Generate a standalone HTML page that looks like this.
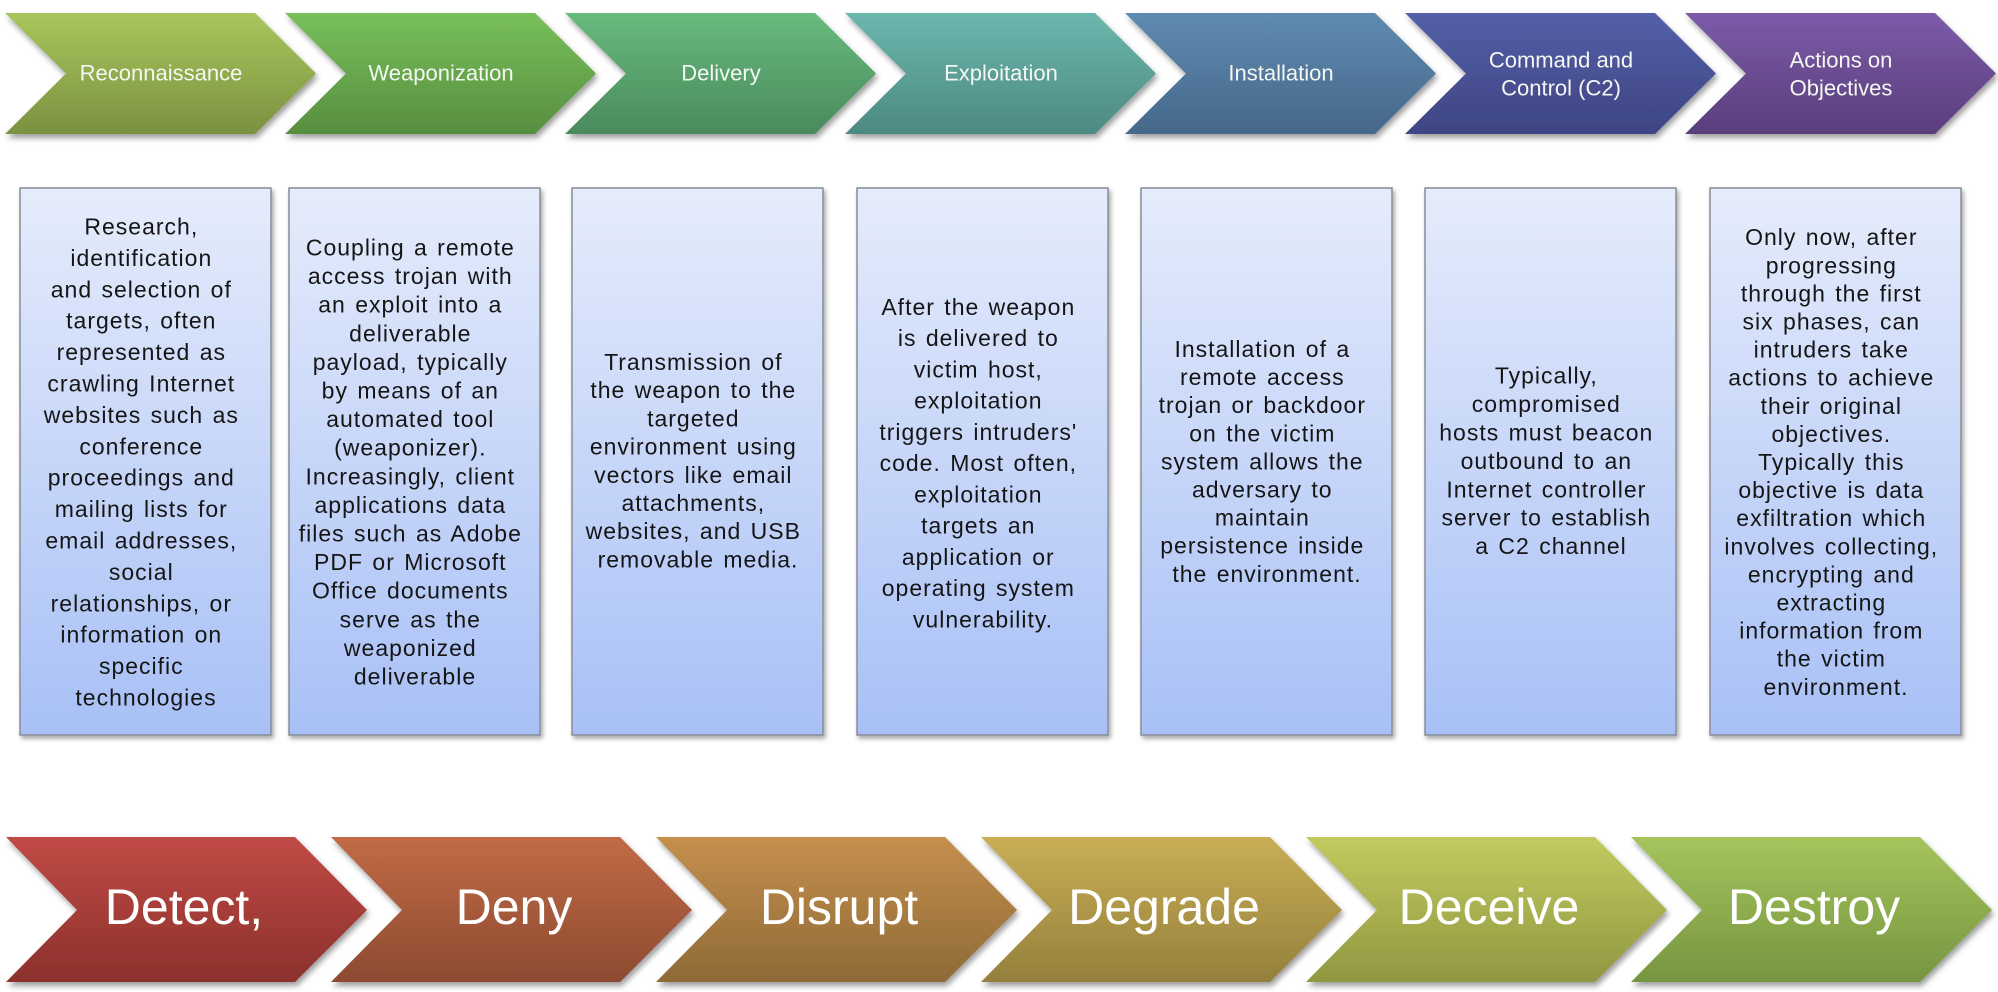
<!DOCTYPE html>
<html>
<head>
<meta charset="utf-8">
<style>
html,body{margin:0;padding:0;background:#fff;}
body{width:1998px;height:992px;overflow:hidden;}
svg{display:block;}
.lab{font-family:"Liberation Sans",sans-serif;font-size:22px;fill:#f5f7f2;text-anchor:middle;dominant-baseline:central;}
.big{font-family:"Liberation Sans",sans-serif;font-size:50px;fill:#ffffff;text-anchor:middle;dominant-baseline:central;}
.bt{font-family:"Liberation Sans",sans-serif;font-size:23px;fill:#151515;text-anchor:middle;dominant-baseline:central;letter-spacing:1px;word-spacing:2px;}
</style>
</head>
<body>
<svg width="1998" height="992" viewBox="0 0 1998 992" xmlns="http://www.w3.org/2000/svg">
<defs>
  <filter id="sh" x="-10%" y="-10%" width="125%" height="130%">
    <feDropShadow dx="2" dy="4" stdDeviation="3" flood-color="#000" flood-opacity="0.38"/>
  </filter>
  <filter id="shb" x="-10%" y="-5%" width="125%" height="110%">
    <feDropShadow dx="2" dy="3" stdDeviation="2.5" flood-color="#000" flood-opacity="0.35"/>
  </filter>
  <linearGradient id="t1" x1="0" y1="0" x2="0" y2="1"><stop offset="0" stop-color="#a8c65d"/><stop offset="1" stop-color="#7a913f"/></linearGradient>
  <linearGradient id="t2" x1="0" y1="0" x2="0" y2="1"><stop offset="0" stop-color="#78c05a"/><stop offset="1" stop-color="#578e40"/></linearGradient>
  <linearGradient id="t3" x1="0" y1="0" x2="0" y2="1"><stop offset="0" stop-color="#68ba7e"/><stop offset="1" stop-color="#4a8a5c"/></linearGradient>
  <linearGradient id="t4" x1="0" y1="0" x2="0" y2="1"><stop offset="0" stop-color="#6bb7ad"/><stop offset="1" stop-color="#4d8982"/></linearGradient>
  <linearGradient id="t5" x1="0" y1="0" x2="0" y2="1"><stop offset="0" stop-color="#5f8bb0"/><stop offset="1" stop-color="#45678a"/></linearGradient>
  <linearGradient id="t6" x1="0" y1="0" x2="0" y2="1"><stop offset="0" stop-color="#545fa8"/><stop offset="1" stop-color="#3d4583"/></linearGradient>
  <linearGradient id="t7" x1="0" y1="0" x2="0" y2="1"><stop offset="0" stop-color="#7b5ba8"/><stop offset="1" stop-color="#5a3e7c"/></linearGradient>
  <linearGradient id="b1" x1="0" y1="0" x2="0" y2="1"><stop offset="0" stop-color="#c14b45"/><stop offset="1" stop-color="#8b302c"/></linearGradient>
  <linearGradient id="b2" x1="0" y1="0" x2="0" y2="1"><stop offset="0" stop-color="#c16b47"/><stop offset="1" stop-color="#8d4a30"/></linearGradient>
  <linearGradient id="b3" x1="0" y1="0" x2="0" y2="1"><stop offset="0" stop-color="#c58f4d"/><stop offset="1" stop-color="#8e6a36"/></linearGradient>
  <linearGradient id="b4" x1="0" y1="0" x2="0" y2="1"><stop offset="0" stop-color="#c9ae56"/><stop offset="1" stop-color="#94803b"/></linearGradient>
  <linearGradient id="b5" x1="0" y1="0" x2="0" y2="1"><stop offset="0" stop-color="#c3ca5f"/><stop offset="1" stop-color="#909741"/></linearGradient>
  <linearGradient id="b6" x1="0" y1="0" x2="0" y2="1"><stop offset="0" stop-color="#a4c55d"/><stop offset="1" stop-color="#76953f"/></linearGradient>
  <linearGradient id="bx" x1="0" y1="0" x2="0" y2="1"><stop offset="0" stop-color="#e5ecfb"/><stop offset="1" stop-color="#a8c0f6"/></linearGradient>
</defs>

<!-- Top chevrons: x0 = 5 + 280*i -->
<g filter="url(#sh)">
  <polygon points="5,13 255,13 316,73.5 255,134 5,134 66,73.5" fill="url(#t1)"/>
  <polygon points="285,13 535,13 596,73.5 535,134 285,134 346,73.5" fill="url(#t2)"/>
  <polygon points="565,13 815,13 876,73.5 815,134 565,134 626,73.5" fill="url(#t3)"/>
  <polygon points="845,13 1095,13 1156,73.5 1095,134 845,134 906,73.5" fill="url(#t4)"/>
  <polygon points="1125,13 1375,13 1436,73.5 1375,134 1125,134 1186,73.5" fill="url(#t5)"/>
  <polygon points="1405,13 1655,13 1716,73.5 1655,134 1405,134 1466,73.5" fill="url(#t6)"/>
  <polygon points="1685,13 1935,13 1996,73.5 1935,134 1685,134 1746,73.5" fill="url(#t7)"/>
</g>
<text class="lab" x="161" y="73">Reconnaissance</text>
<text class="lab" x="441" y="73">Weaponization</text>
<text class="lab" x="721" y="73">Delivery</text>
<text class="lab" x="1001" y="73">Exploitation</text>
<text class="lab" x="1281" y="73">Installation</text>
<text class="lab" x="1561" y="60">Command and</text>
<text class="lab" x="1561" y="88">Control (C2)</text>
<text class="lab" x="1841" y="60">Actions on</text>
<text class="lab" x="1841" y="88">Objectives</text>

<!-- Boxes -->
<g filter="url(#shb)" stroke="#878c96" stroke-width="1.5">
  <rect x="20" y="188" width="251" height="547" fill="url(#bx)"/>
  <rect x="289" y="188" width="251" height="547" fill="url(#bx)"/>
  <rect x="572" y="188" width="251" height="547" fill="url(#bx)"/>
  <rect x="857" y="188" width="251" height="547" fill="url(#bx)"/>
  <rect x="1141" y="188" width="251" height="547" fill="url(#bx)"/>
  <rect x="1425" y="188" width="251" height="547" fill="url(#bx)"/>
  <rect x="1710" y="188" width="251" height="547" fill="url(#bx)"/>
</g>

<!-- Box 1: 16 lines, pitch 31.4, center 462 -> first 226.5 -->
<text class="bt">
  <tspan x="146" y="226.5">Research,</tspan>
  <tspan x="146" y="257.9">identification</tspan>
  <tspan x="146" y="289.3">and selection of</tspan>
  <tspan x="146" y="320.7">targets, often</tspan>
  <tspan x="146" y="352.1">represented as</tspan>
  <tspan x="146" y="383.5">crawling Internet</tspan>
  <tspan x="146" y="414.9">websites such as</tspan>
  <tspan x="146" y="446.3">conference</tspan>
  <tspan x="146" y="477.7">proceedings and</tspan>
  <tspan x="146" y="509.1">mailing lists for</tspan>
  <tspan x="146" y="540.5">email addresses,</tspan>
  <tspan x="146" y="571.9">social</tspan>
  <tspan x="146" y="603.3">relationships, or</tspan>
  <tspan x="146" y="634.7">information on</tspan>
  <tspan x="146" y="666.1">specific</tspan>
  <tspan x="146" y="697.5">technologies</tspan>
</text>

<!-- Box 2: 16 lines, pitch 28.6 -> first 247.5 -->
<text class="bt">
  <tspan x="415" y="247.5">Coupling a remote</tspan>
  <tspan x="415" y="276.1">access trojan with</tspan>
  <tspan x="415" y="304.7">an exploit into a</tspan>
  <tspan x="415" y="333.3">deliverable</tspan>
  <tspan x="415" y="361.9">payload, typically</tspan>
  <tspan x="415" y="390.5">by means of an</tspan>
  <tspan x="415" y="419.1">automated tool</tspan>
  <tspan x="415" y="447.7">(weaponizer).</tspan>
  <tspan x="415" y="476.3">Increasingly, client</tspan>
  <tspan x="415" y="504.9">applications data</tspan>
  <tspan x="415" y="533.5">files such as Adobe</tspan>
  <tspan x="415" y="562.1">PDF or Microsoft</tspan>
  <tspan x="415" y="590.7">Office documents</tspan>
  <tspan x="415" y="619.3">serve as the</tspan>
  <tspan x="415" y="647.9">weaponized</tspan>
  <tspan x="415" y="676.5">deliverable</tspan>
</text>

<!-- Box 3: 8 lines, pitch 28.2 -> first 363.3 -->
<text class="bt">
  <tspan x="698" y="362">Transmission of</tspan>
  <tspan x="698" y="390.2">the weapon to the</tspan>
  <tspan x="698" y="418.4">targeted</tspan>
  <tspan x="698" y="446.6">environment using</tspan>
  <tspan x="698" y="474.8">vectors like email</tspan>
  <tspan x="698" y="503">attachments,</tspan>
  <tspan x="698" y="531.2">websites, and USB</tspan>
  <tspan x="698" y="559.4">removable media.</tspan>
</text>

<!-- Box 4: 11 lines, pitch 31.25 -> first 306.8 -->
<text class="bt">
  <tspan x="983" y="306.8">After the weapon</tspan>
  <tspan x="983" y="338">is delivered to</tspan>
  <tspan x="983" y="369.3">victim host,</tspan>
  <tspan x="983" y="400.5">exploitation</tspan>
  <tspan x="983" y="431.8">triggers intruders'</tspan>
  <tspan x="983" y="463">code. Most often,</tspan>
  <tspan x="983" y="494.3">exploitation</tspan>
  <tspan x="983" y="525.5">targets an</tspan>
  <tspan x="983" y="556.8">application or</tspan>
  <tspan x="983" y="588">operating system</tspan>
  <tspan x="983" y="619.3">vulnerability.</tspan>
</text>

<!-- Box 5: 9 lines, pitch 28.1 -> first 349 -->
<text class="bt">
  <tspan x="1267" y="349">Installation of a</tspan>
  <tspan x="1267" y="377.1">remote access</tspan>
  <tspan x="1267" y="405.2">trojan or backdoor</tspan>
  <tspan x="1267" y="433.3">on the victim</tspan>
  <tspan x="1267" y="461.4">system allows the</tspan>
  <tspan x="1267" y="489.5">adversary to</tspan>
  <tspan x="1267" y="517.6">maintain</tspan>
  <tspan x="1267" y="545.7">persistence inside</tspan>
  <tspan x="1267" y="573.8">the environment.</tspan>
</text>

<!-- Box 6: 7 lines, pitch 28.4 -> first 375.7 -->
<text class="bt">
  <tspan x="1551" y="375.7">Typically,</tspan>
  <tspan x="1551" y="404.1">compromised</tspan>
  <tspan x="1551" y="432.5">hosts must beacon</tspan>
  <tspan x="1551" y="460.9">outbound to an</tspan>
  <tspan x="1551" y="489.3">Internet controller</tspan>
  <tspan x="1551" y="517.7">server to establish</tspan>
  <tspan x="1551" y="546.1">a C2 channel</tspan>
</text>

<!-- Box 7: 17 lines, pitch 28.1 -> first 237.2 -->
<text class="bt">
  <tspan x="1836" y="237.2">Only now, after</tspan>
  <tspan x="1836" y="265.3">progressing</tspan>
  <tspan x="1836" y="293.4">through the first</tspan>
  <tspan x="1836" y="321.5">six phases, can</tspan>
  <tspan x="1836" y="349.6">intruders take</tspan>
  <tspan x="1836" y="377.7">actions to achieve</tspan>
  <tspan x="1836" y="405.8">their original</tspan>
  <tspan x="1836" y="433.9">objectives.</tspan>
  <tspan x="1836" y="462">Typically this</tspan>
  <tspan x="1836" y="490.1">objective is data</tspan>
  <tspan x="1836" y="518.2">exfiltration which</tspan>
  <tspan x="1836" y="546.3">involves collecting,</tspan>
  <tspan x="1836" y="574.4">encrypting and</tspan>
  <tspan x="1836" y="602.5">extracting</tspan>
  <tspan x="1836" y="630.6">information from</tspan>
  <tspan x="1836" y="658.7">the victim</tspan>
  <tspan x="1836" y="686.8">environment.</tspan>
</text>

<!-- Bottom chevrons: x0 = 6 + 325*j -->
<g filter="url(#sh)">
  <polygon points="6,837 295,837 367,910 295,982 6,982 77,910" fill="url(#b1)"/>
  <polygon points="331,837 620,837 692,910 620,982 331,982 402,910" fill="url(#b2)"/>
  <polygon points="656,837 945,837 1017,910 945,982 656,982 727,910" fill="url(#b3)"/>
  <polygon points="981,837 1270,837 1342,910 1270,982 981,982 1052,910" fill="url(#b4)"/>
  <polygon points="1306,837 1595,837 1667,910 1595,982 1306,982 1377,910" fill="url(#b5)"/>
  <polygon points="1631,837 1920,837 1992,910 1920,982 1631,982 1702,910" fill="url(#b6)"/>
</g>
<text class="big" x="184" y="907">Detect,</text>
<text class="big" x="514" y="907">Deny</text>
<text class="big" x="839" y="907">Disrupt</text>
<text class="big" x="1164" y="907">Degrade</text>
<text class="big" x="1489" y="907">Deceive</text>
<text class="big" x="1814" y="907">Destroy</text>
</svg>
</body>
</html>
